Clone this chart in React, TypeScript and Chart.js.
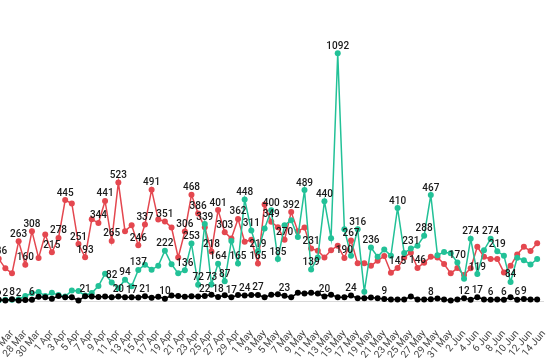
import React, { useEffect, useRef } from "react";
import { Chart, registerables } from "chart.js";

Chart.register(...registerables);

const dates = [
  "24 Mar","25 Mar","26 Mar","27 Mar","28 Mar","29 Mar","30 Mar","31 Mar",
  "1 Apr","2 Apr","3 Apr","4 Apr","5 Apr","6 Apr","7 Apr","8 Apr","9 Apr","10 Apr",
  "11 Apr","12 Apr","13 Apr","14 Apr","15 Apr","16 Apr","17 Apr","18 Apr","19 Apr","20 Apr",
  "21 Apr","22 Apr","23 Apr","24 Apr","25 Apr","26 Apr","27 Apr","28 Apr","29 Apr","30 Apr",
  "1 May","2 May","3 May","4 May","5 May","6 May","7 May","8 May","9 May","10 May",
  "11 May","12 May","13 May","14 May","15 May","16 May","17 May","18 May","19 May","20 May",
  "21 May","22 May","23 May","24 May","25 May","26 May","27 May","28 May","29 May","30 May","31 May",
  "1 Jun","2 Jun","3 Jun","4 Jun","5 Jun","6 Jun","7 Jun","8 Jun","9 Jun","10 Jun",
  "11 Jun","12 Jun","13 Jun","14 Jun"
];

const redSeries = [
  186, 144, 122, 263, 160, 308, 190, 293, 215, 278,
  445, 430, 251, 193, 360, 344, 441, 265, 523, 308,
  334, 246, 337, 491, 359, 351, 324, 192, 306, 468,
  386, 325, 218, 401, 303, 276, 362, 261, 270, 165,
  425, 349, 325, 270, 392, 308, 324, 231, 222, 192,
  224, 244, 190, 267, 166, 166, 155, 178, 198, 125,
  145, 192, 213, 146, 169, 195, 192, 163, 122, 145,
  115, 144, 239, 195, 185, 185, 126, 155, 205, 239,
  220, 255
];

const tealSeries = [
  3, 5, 6, 8, 22, 34, 40, 22, 36, 26,
  20, 46, 44, 24, 35, 66, 120, 82, 56, 94,
  65, 137, 160, 138, 155, 222, 162, 122, 136, 253,
  72, 339, 73, 164, 87, 265, 165, 448, 311, 219,
  320, 400, 185, 334, 356, 282, 489, 139, 192, 440,
  277, 1092, 316, 200, 316, 41, 236, 195, 227, 200,
  410, 212, 231, 244, 288, 467, 202, 216, 210, 170,
  98, 274, 119, 224, 274, 219, 200, 84, 191, 180,
  161, 185
];

const blackSeries = [
  6, 2, 8, 2, 4, 6, 19, 16, 10, 22,
  16, 16, 2, 21, 20, 18, 20, 16, 20, 17,
  17, 15, 21, 14, 19, 10, 24, 22, 19, 21,
  20, 22, 28, 18, 25, 17, 26, 24, 26, 27,
  16, 28, 30, 23, 16, 36, 33, 36, 33, 20,
  28, 16, 16, 24, 12, 12, 15, 12, 9, 7,
  7, 7, 20, 7, 7, 8, 11, 7, 2, 7,
  12, 6, 17, 7, 6, 7, 6, 16, 6, 9,
  7, 7
];

const redLabelIdx = [0, 3, 4, 5, 8, 9, 10, 12, 13, 15, 16, 17, 18, 21, 22, 23, 25, 28, 29, 30, 32, 33, 34, 36, 39, 41, 43, 44, 47, 52, 53, 60, 63];
const tealLabelIdx = [17, 19, 21, 25, 28, 29, 30, 31, 32, 33, 34, 36, 37, 38, 39, 41, 42, 46, 47, 49, 51, 54, 56, 60, 62, 64, 65, 69, 71, 72, 74, 75, 77];
const blackLabelIdx = [0, 1, 2, 3, 5, 13, 18, 20, 22, 25, 31, 33, 35, 37, 39, 43, 49, 53, 58, 65, 70, 72, 74, 76, 78, 79];

const RED = "#e4474f";
const TEAL = "#22c197";
const BLACK = "#000000";

export default function App() {
  const ref = useRef<HTMLCanvasElement | null>(null);

  const STEP = 6.84;
  const FIRST_X = -1.3;
  const SHIFT = 60;
  const PLOT_BOTTOM = 301;
  const H = 362;
  const Y_MAX = 1100;
  const PX_PER_UNIT = 0.2268;
  const plotW = STEP * (dates.length - 1);
  const padLeft = SHIFT + FIRST_X;
  const W = Math.ceil(padLeft + plotW + 20);
  const padRight = W - padLeft - plotW;
  const padTop = PLOT_BOTTOM - Y_MAX * PX_PER_UNIT;

  useEffect(() => {
    if (!ref.current) return;
    const labelSets: Array<[number, number[]]> = [
      [2, redLabelIdx],
      [1, tealLabelIdx],
      [0, blackLabelIdx],
    ];
    const labelPlugin = {
      id: "pointValueLabels",
      afterDatasetsDraw(chart: any) {
        const ctx = chart.ctx;
        ctx.save();
        ctx.font = "500 10px Roboto";
        ctx.fillStyle = "#1a1a1a";
        ctx.textAlign = "center";
        ctx.textBaseline = "middle";
        labelSets.forEach(([ds, idxs]) => {
          const meta = chart.getDatasetMeta(ds);
          const data = chart.data.datasets[ds].data;
          idxs.forEach((i) => {
            const el = meta.data[i];
            if (!el) return;
            ctx.fillText(String(data[i]), el.x, el.y - 7);
          });
        });
        ctx.restore();
      },
    };

    const mk = (label: string, data: number[], color: string) => ({
      label,
      data,
      borderColor: color,
      backgroundColor: color,
      pointBackgroundColor: color,
      pointBorderColor: color,
      borderWidth: 1.5,
      pointRadius: 3,
      pointBorderWidth: 0,
      tension: 0,
      clip: false as any,
    });

    const chart = new Chart(ref.current, {
      type: "line",
      data: {
        labels: dates,
        datasets: [
          mk("black", blackSeries, BLACK),
          mk("teal", tealSeries, TEAL),
          mk("red", redSeries, RED),
        ],
      },
      options: {
        responsive: false,
        animation: false,
        devicePixelRatio: 1,
        layout: { padding: { left: padLeft, right: padRight, top: padTop, bottom: 0 } },
        plugins: { legend: { display: false }, tooltip: { enabled: false } },
        scales: {
          x: {
            type: "category",
            offset: false,
            grid: { display: false, drawTicks: false },
            border: { display: true, color: "#d9d9d9" },
            ticks: {
              autoSkip: false,
              minRotation: 50,
              maxRotation: 50,
              padding: 27,
              color: "#444",
              font: { size: 10, family: "Roboto" },
              callback: (_v: any, i: number) => (i % 2 === 0 ? dates[i] : ""),
            },
            afterFit: (scale: any) => {
              scale.height = H - PLOT_BOTTOM;
            },
          },
          y: { display: false, min: 0, max: Y_MAX },
        },
      },
      plugins: [labelPlugin],
    });
    return () => chart.destroy();
  }, []);

  return (
    <div
      style={{
        position: "fixed",
        left: 0,
        top: 0,
        width: 550,
        height: 362,
        overflow: "hidden",
        background: "#fff",
      }}
    >
      <canvas
        ref={ref}
        width={W}
        height={H}
        style={{ position: "absolute", left: -SHIFT, top: 0, width: W, height: H }}
      />
    </div>
  );
}
